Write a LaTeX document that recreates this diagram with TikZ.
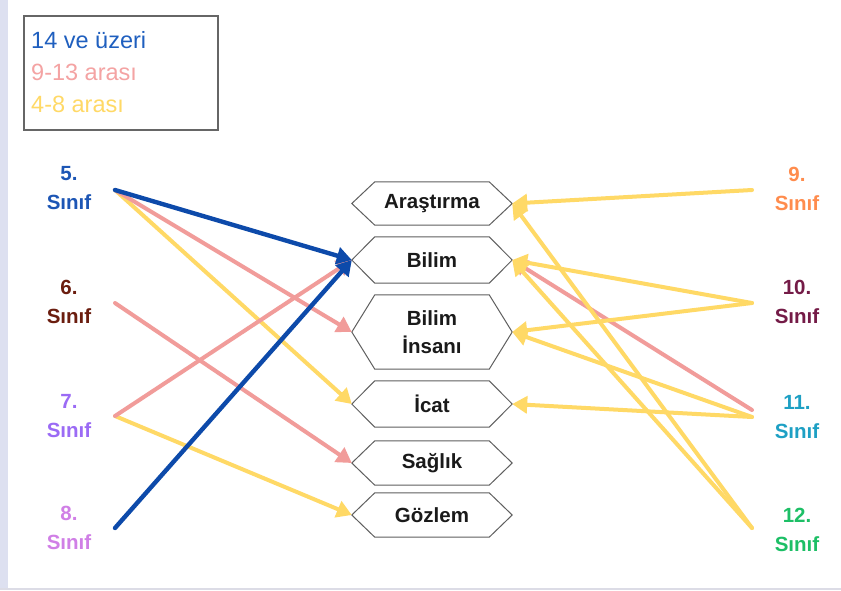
\documentclass[tikz,border=0pt]{standalone}
\usepackage{fontspec}
\setmainfont{Liberation Sans}
\usetikzlibrary{arrows.meta}

\definecolor{stripcol}{HTML}{DDE0F0}
\definecolor{basecol}{HTML}{DCDCE6}
\definecolor{framecol}{HTML}{666666}
\definecolor{hexcol}{HTML}{5F5F5F}
\definecolor{inkcol}{HTML}{1A1A1A}
\definecolor{bluelink}{HTML}{0D4AAA}
\definecolor{pinklink}{HTML}{F19C9A}
\definecolor{yellowlink}{HTML}{FFD966}
\definecolor{legblue}{HTML}{1F5FBF}
\definecolor{legpink}{HTML}{F4A3A3}
\definecolor{legyellow}{HTML}{FFD966}
\definecolor{cfive}{HTML}{1D56B5}
\definecolor{csix}{HTML}{6B1D0F}
\definecolor{cseven}{HTML}{9B6BF5}
\definecolor{ceight}{HTML}{D07FE6}
\definecolor{cnine}{HTML}{FF8C4D}
\definecolor{cten}{HTML}{741B47}
\definecolor{celeven}{HTML}{1EA0C4}
\definecolor{ctwelve}{HTML}{1DBF66}

\begin{document}
\begin{tikzpicture}[x=1pt,y=-1pt,
  legtext/.style={anchor=base west, inner sep=0pt,
    font=\fontsize{23.5}{28}\selectfont},
  grade/.style={align=center, inner sep=0pt,
    font=\fontsize{20.5}{29}\selectfont\bfseries},
  hexin/.style={minimum width=114pt, inner sep=0pt, align=center,
    text=inkcol, font=\fontsize{20.5}{28}\selectfont\bfseries},
  hexline/.style={draw=hexcol, line width=1pt, line join=miter},
  link/.style={line width=4pt, line cap=round,
    -{Triangle[length=15pt,width=17pt]}},
  blueline/.style={link, line width=4.4pt, draw=bluelink, fill=bluelink},
  pinkline/.style={link, draw=pinklink, fill=pinklink},
  yellowline/.style={link, draw=yellowlink, fill=yellowlink}]

\useasboundingbox (0,0) rectangle (841,590);
\fill[white] (0,0) rectangle (841,590);
\fill[stripcol] (0,0) rectangle (8,590);
\fill[basecol] (0,588) rectangle (841,590);

% legend
\draw[framecol, line width=1.3pt] (24,16) rectangle (218,130);
\node[legtext, text=legblue] (leg1) at (31,48) {14 ve üzeri};
\node[legtext, text=legpink] (leg2) at (31,80) {9-13 arası};
\node[legtext, text=legyellow] (leg3) at (31,112) {4-8 arası};

% grade labels
\node[grade, text=cfive]   (l5) at (69,188) {5.\\Sınıf};
\node[grade, text=csix]    (l6) at (69,302) {6.\\Sınıf};
\node[grade, text=cseven]  (l7) at (69,416) {7.\\Sınıf};
\node[grade, text=ceight]  (l8) at (69,528) {8.\\Sınıf};
\node[grade, text=cnine]   (l9) at (797,189) {9.\\Sınıf};
\node[grade, text=cten]    (l10) at (797,302) {10.\\Sınıf};
\node[grade, text=celeven] (l11) at (797,417) {11.\\Sınıf};
\node[grade, text=ctwelve] (l12) at (797,530) {12.\\Sınıf};

% concept boxes
\node[hexin, minimum height=43pt] (arastirma) at (432,203.5) {Araştırma};
\node[hexin, minimum height=46pt] (bilim) at (432,260) {Bilim};
\node[hexin, minimum height=74pt] (insan) at (432,332) {Bilim\\İnsanı};
\node[hexin, minimum height=46pt] (icat) at (432,404) {İcat};
\node[hexin, minimum height=44pt] (saglik) at (432,463) {Sağlık};
\node[hexin, minimum height=44pt] (gozlem) at (432,515) {Gözlem};

\foreach \n in {arastirma,bilim,insan,icat,saglik,gozlem}{
  \coordinate (\n-L) at ([xshift=-23pt]\n.west);
  \coordinate (\n-R) at ([xshift=23pt]\n.east);
  \draw[hexline] (\n.north west) -- (\n.north east) -- (\n-R)
    -- (\n.south east) -- (\n.south west) -- (\n-L) -- cycle;
}

% connector start points
\coordinate (s5) at (115,190);
\coordinate (s6) at (115,303);
\coordinate (s7) at (115,416);
\coordinate (s8) at (115,528);
\coordinate (s9) at (752,190);
\coordinate (s10) at (752,303);
\coordinate (s11p) at (752,410);
\coordinate (s11) at (752,417);
\coordinate (s12) at (752,528);

% lower grades
\draw[yellowline] (s5) -- (icat-L);
\draw[yellowline] (s7) -- (gozlem-L);
\draw[pinkline] (s5) -- (insan-L);
\draw[pinkline] (s6) -- (saglik-L);
\draw[pinkline] (s7) -- (bilim-L);
\draw[blueline] (s5) -- (bilim-L);
\draw[blueline] (s8) -- (bilim-L);

% upper grades
\draw[pinkline] (s11p) -- (bilim-R);
\draw[yellowline] (s9) -- (arastirma-R);
\draw[yellowline] (s10) -- (bilim-R);
\draw[yellowline] (s10) -- (insan-R);
\draw[yellowline] (s11) -- (insan-R);
\draw[yellowline] (s11) -- (icat-R);
\draw[yellowline] (s12) -- (arastirma-R);
\draw[yellowline] (s12) -- (bilim-R);

\end{tikzpicture}
\end{document}
